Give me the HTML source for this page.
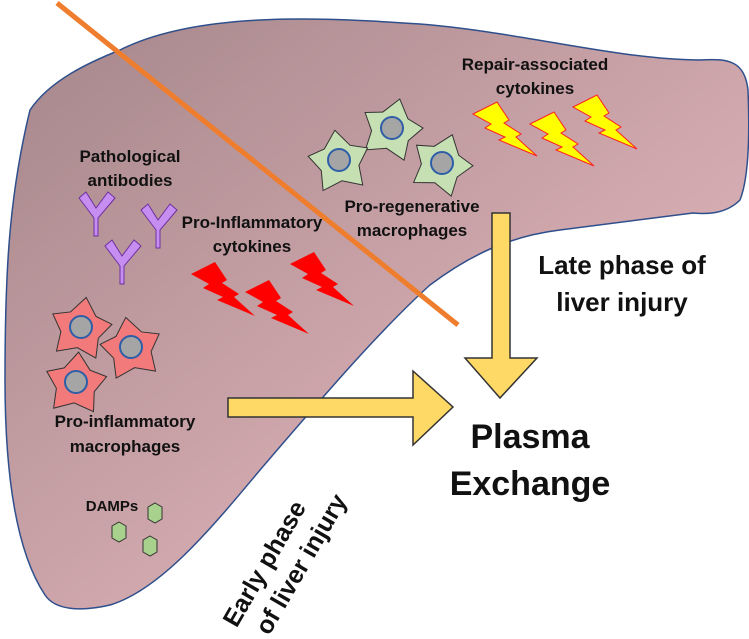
<!DOCTYPE html>
<html><head><meta charset="utf-8"><style>
html,body{margin:0;padding:0;background:#fff}
svg text{font-family:"Liberation Sans Narrow","Liberation Sans",sans-serif;font-weight:bold;fill:#111;text-anchor:middle}
</style></head><body>
<svg width="749" height="634" viewBox="0 0 749 634" xmlns="http://www.w3.org/2000/svg">
<defs>
<linearGradient id="g" x1="0" y1="0" x2="1" y2="1">
<stop offset="0" stop-color="#a4868a"/><stop offset="0.6" stop-color="#d2a9ae"/><stop offset="1" stop-color="#e6bec3"/>
</linearGradient>
<g id="cell"><polygon points="0,-30 13,-13 30,-8 19,8 20,28 0,21 -20,28 -19,8 -30,-8 -13,-13"/></g>
<g id="bolt"><polygon points="0,12 24,0 36,18 31,21 48,32 43,35 64,54 26,38 32,35 12,26 18,22"/></g>
</defs>
<path d="M120,50 C200,10 330,18 420,24 C520,32 620,60 700,60 C730,58 745,62 748,90 C750,140 748,180 740,200 C725,215 705,214 693,213 C640,220 600,225 560,230 C510,236 470,255 430,285 C380,330 320,400 260,470 C210,530 160,590 110,605 C80,612 55,610 45,595 C15,550 5,470 5,380 C5,280 8,200 30,110 C50,80 90,62 120,50 Z" fill="url(#g)" stroke="#2f4f8c" stroke-width="1.5"/>
<line x1="57" y1="3" x2="458" y2="325" stroke="#ef7d2e" stroke-width="5"/>
<g fill="#c6e0b4" stroke="#333" stroke-width="1">
<use href="#cell" x="392" y="128" transform="rotate(15 392 128)"/><use href="#cell" x="339" y="160" transform="rotate(-8 339 160)"/><use href="#cell" x="442" y="163" transform="rotate(20 442 163)"/>
</g>
<g fill="#a5a5a5" stroke="#2e5ea8" stroke-width="2">
<circle cx="392" cy="128" r="11"/><circle cx="339" cy="160" r="11"/><circle cx="442" cy="163" r="11"/>
</g>
<g fill="#f27a7a" stroke="#333" stroke-width="1">
<use href="#cell" x="81" y="327" transform="rotate(10 81 327)"/><use href="#cell" x="131" y="347" transform="rotate(-10 131 347)"/><use href="#cell" x="76" y="382" transform="rotate(5 76 382)"/>
</g>
<g fill="#a5a5a5" stroke="#2e5ea8" stroke-width="2">
<circle cx="81" cy="327" r="11"/><circle cx="131" cy="347" r="11"/><circle cx="76" cy="382" r="11"/>
</g>
<g stroke="#7030a0" stroke-width="1" fill="#c58ef0">
<path d="M79,198 L86,192 L96,208 L108,192 L115,198 L98,218 L98,236 L94,236 L94,218 Z"/>
<path d="M141,210 L148,204 L158,220 L170,204 L177,210 L160,230 L160,248 L156,248 L156,230 Z"/>
<path d="M105,246 L112,240 L122,256 L134,240 L141,246 L124,266 L124,284 L120,284 L120,266 Z"/>
</g>
<g fill="#ff0000">
<use href="#bolt" x="191" y="262"/><use href="#bolt" x="245" y="280"/><use href="#bolt" x="290" y="252"/>
</g>
<g fill="#ffff00" stroke="#ff2020" stroke-width="1">
<use href="#bolt" x="473" y="102"/><use href="#bolt" x="530" y="112"/><use href="#bolt" x="573" y="95"/>
</g>
<g fill="#a9d18e" stroke="#333" stroke-width="1">
<polygon points="155,503 162,507 162,519 155,523 148,519 148,507"/>
<polygon points="119,522 126,526 126,538 119,542 112,538 112,526"/>
<polygon points="150,536 157,540 157,552 150,556 143,552 143,540"/>
</g>
<g fill="#ffd966" stroke="#333" stroke-width="1.5">
<polygon points="492,213 510,213 510,358 537,358 500,398 465,358 492,358"/>
<polygon points="228,398 413,398 413,371 453,407 413,445 413,417 228,417"/>
</g>
<g font-size="17">
<text x="535" y="70">Repair-associated</text><text x="535" y="94">cytokines</text>
<text x="130" y="162">Pathological</text><text x="130" y="186">antibodies</text>
<text x="252" y="228">Pro-Inflammatory</text><text x="252" y="252">cytokines</text>
<text x="412" y="212">Pro-regenerative</text><text x="412" y="236">macrophages</text>
<text x="125" y="427">Pro-inflammatory</text><text x="125" y="452">macrophages</text>
<text x="112" y="511" font-size="15">DAMPs</text>
</g>
<g font-size="26"><text x="622" y="274">Late phase of</text><text x="622" y="311">liver injury</text></g>
<g font-size="34"><text x="530" y="448">Plasma</text><text x="530" y="495">Exchange</text></g>
<g font-size="25" transform="rotate(-60 282 560)"><text x="270" y="555">Early phase</text><text x="288" y="587">of liver injury</text></g>
</svg>
</body></html>
